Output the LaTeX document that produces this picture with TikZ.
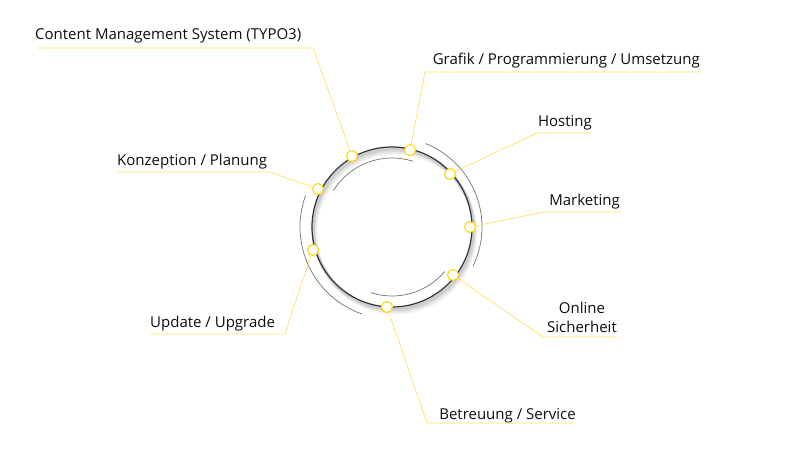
\documentclass[tikz,border=0pt]{standalone}
\usepackage{fontspec}
\setmainfont{Open Sans}
\usetikzlibrary{calc}
\begin{document}
\begin{tikzpicture}[x=1pt,y=-1pt,
  lbl/.style={inner sep=0pt,font=\fontsize{15}{17}\selectfont,text=black!95},
  ln/.style={draw=yellow!70!orange!60,line width=0.7pt},
  arcl/.style={black!55,line width=0.7pt},
  dot/.style={circle,draw=yellow!75!orange,line width=1.1pt,fill=white,minimum size=11pt,inner sep=0pt}]
\useasboundingbox (0,0) rectangle (800,450);
\coordinate (C) at (392,227);
% shadow
\foreach \o/\c in {6/black!4,5/black!7,4/black!10,3/black!14,2/black!20}
  \draw[\c,line width=3pt] ($(C)+(\o*0.6,\o)$) circle[radius=80];
\draw[black!80,line width=1.2pt] (C) circle[radius=80];
% arcs (angles negated because y is flipped)
\draw[arcl] (C) ++(-148:69) arc[start angle=-148,end angle=-72,radius=69];
\draw[arcl] (C) ++(108:69) arc[start angle=108,end angle=40,radius=69];
\draw[arcl] (C) ++(-68:90) arc[start angle=-68,end angle=26,radius=90];
\draw[arcl] (C) ++(-160:92) arc[start angle=-160,end angle=-251,radius=92];
% dots
\node[dot] (d1) at (352,156) {};
\node[dot] (d2) at (410,150) {};
\node[dot] (d3) at (450,174) {};
\node[dot] (d4) at (470,227) {};
\node[dot] (d5) at (453,275) {};
\node[dot] (d6) at (387,307) {};
\node[dot] (d7) at (313,250) {};
\node[dot] (d8) at (318,189) {};
% labels
\node[lbl,anchor=base west] (t1) at (35,39) {Content Management System (TYPO3)};
\coordinate (a1) at (37,48); \coordinate (b1) at (313,48);
\draw[ln] (a1) -- (b1) -- (d1);
\node[lbl,anchor=base east] (t2) at (700,64) {Grafik / Programmierung / Umsetzung};
\coordinate (a2) at (700,72); \coordinate (b2) at (425,72);
\draw[ln] (a2) -- (b2) -- (d2);
\node[lbl,anchor=base east] (t3) at (592,126) {Hosting};
\coordinate (a3) at (592,133); \coordinate (b3) at (537,133);
\draw[ln] (a3) -- (b3) -- (d3);
\node[lbl,anchor=base east] (t4) at (620,205) {Marketing};
\coordinate (a4) at (620,212); \coordinate (b4) at (544,212);
\draw[ln] (a4) -- (b4) -- (d4);
\node[lbl,align=center,anchor=south,font=\fontsize{15}{19}\selectfont] (t5) at (582,333) {Online\\Sicherheit};
\coordinate (a5) at (617,337); \coordinate (b5) at (543,337);
\draw[ln] (a5) -- (b5) -- (d5);
\node[lbl,anchor=base east] (t6) at (576,419) {Betreuung / Service};
\coordinate (a6) at (575,423); \coordinate (b6) at (427,423);
\draw[ln] (a6) -- (b6) -- (d6);
\node[lbl,anchor=base west] (t7) at (150,327) {Update / Upgrade};
\coordinate (a7) at (150,334); \coordinate (b7) at (285,334);
\draw[ln] (a7) -- (b7) -- (d7);
\node[lbl,anchor=base west] (t8) at (117,165) {Konzeption / Planung};
\coordinate (a8) at (117,172); \coordinate (b8) at (270,172);
\draw[ln] (a8) -- (b8) -- (d8);
\end{tikzpicture}
\end{document}
